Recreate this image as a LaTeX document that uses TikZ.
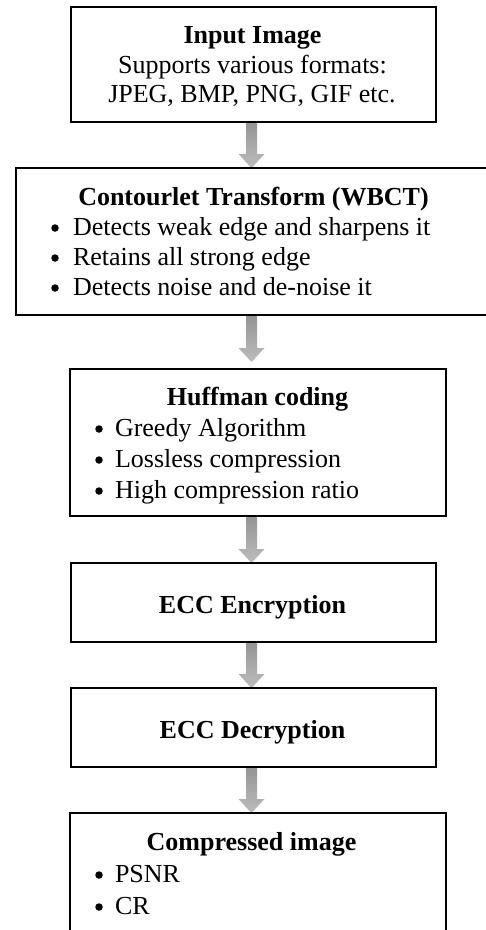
\documentclass[tikz,border=0pt]{standalone}
\usepackage{fontspec}
\setmainfont{Liberation Serif}
\usetikzlibrary{calc}
\tikzset{
  box/.style={draw=none, inner sep=0pt, outer sep=0pt, anchor=north west},
  outline/.style={draw=black, line width=2pt},
  txt/.style={inner sep=0pt, outer sep=0pt, font=\fontsize{26}{30}\selectfont, anchor=base},
  ttl/.style={txt, font=\fontsize{26}{30}\selectfont\bfseries},
  itm/.style={txt, anchor=base west},
  bul/.style={circle, fill=black, inner sep=0pt, outer sep=0pt, minimum size=7.5pt},
  arrowshade/.style={top color=black!42, bottom color=black!26, draw=none}
}
\newcommand\blockarrow[3]{%
  \shade[arrowshade]
    ($(ax|-#1.south)+(-5.5,0)$) --
    ($(ax|-#2.north)+(-5.5,-14-#3)$) --
    ($(ax|-#2.north)+(-13,-14-#3)$) --
    ($(ax|-#2.north)+(0,-#3)$) --
    ($(ax|-#2.north)+(13,-14-#3)$) --
    ($(ax|-#2.north)+(5.5,-14-#3)$) --
    ($(ax|-#1.south)+(5.5,0)$) -- cycle;}
\begin{document}
\begin{tikzpicture}[x=1pt, y=-1pt]
  \useasboundingbox (0,0) rectangle (486,930);
  \clip (0,0) rectangle (486,930);
  \coordinate (ax) at (251.5,0);

  % boxes
  \node[box, minimum width=365pt, minimum height=115pt] (b1) at (71,7) {};
  \node[box, minimum width=472pt, minimum height=147pt] (b2) at (16,168) {};
  \node[box, minimum width=376pt, minimum height=147pt] (b3) at (70,369) {};
  \node[box, minimum width=365pt, minimum height=79pt] (b4) at (71,563) {};
  \node[box, minimum width=365pt, minimum height=79pt] (b5) at (71,688) {};
  \node[box, minimum width=376pt, minimum height=130pt] (b6) at (70,813) {};

  % arrows
  \blockarrow{b1}{b2}{0}
  \blockarrow{b2}{b3}{7}
  \blockarrow{b3}{b4}{0}
  \blockarrow{b4}{b5}{0}
  \blockarrow{b5}{b6}{0}

  % box outlines drawn over the arrow ends
  \foreach \b in {b1,b2,b3,b4,b5,b6}
    \draw[outline] (\b.north west) rectangle (\b.south east);

  % box 1
  \node[ttl] (t1) at (252.5,43) {Input Image};
  \node[txt] (t1a) at (252.5,73) {Supports various formats:};
  \node[txt] (t1b) at (252,102) {JPEG, BMP, PNG, GIF etc.};

  % box 2
  \node[ttl] (t2) at (253.5,205) {Contourlet Transform (WBCT)};
  \node[bul] (u2a) at (55,228) {};
  \node[itm] (t2a) at (73,235) {Detects weak edge and sharpens it};
  \node[bul] (u2b) at (55,258) {};
  \node[itm] (t2b) at (73,265) {Retains all strong edge};
  \node[bul] (u2c) at (55,288) {};
  \node[itm] (t2c) at (73,295) {Detects noise and de-noise it};

  % box 3
  \node[ttl] (t3) at (257.5,405) {Huffman coding};
  \node[bul] (u3a) at (99,429) {};
  \node[itm] (t3a) at (115,436) {Greedy Algorithm};
  \node[bul] (u3b) at (99,460) {};
  \node[itm] (t3b) at (115,467) {Lossless compression};
  \node[bul] (u3c) at (99,491) {};
  \node[itm] (t3c) at (115,498) {High compression ratio};

  % box 4, 5
  \node[ttl] (t4) at (252.5,613) {ECC Encryption};
  \node[ttl] (t5) at (252.5,738) {ECC Decryption};

  % box 6
  \node[ttl] (t6) at (251.5,850) {Compressed image};
  \node[bul] (u6a) at (99,875) {};
  \node[itm] (t6a) at (115,882) {PSNR};
  \node[bul] (u6b) at (99,907) {};
  \node[itm] (t6b) at (115,914) {CR};
\end{tikzpicture}
\end{document}
